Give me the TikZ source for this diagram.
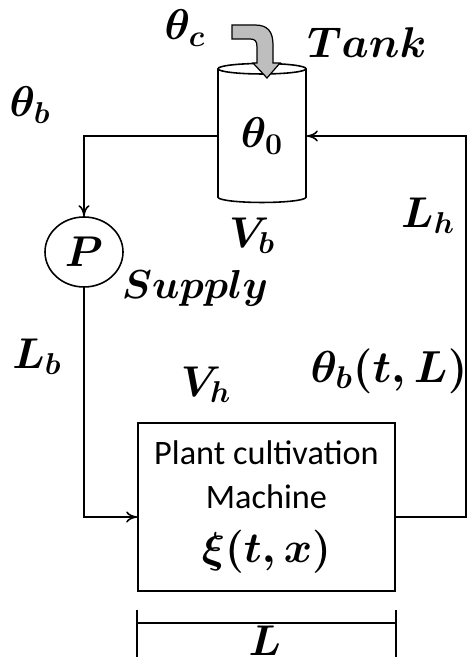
\RequirePackage{fix-cm}
\documentclass[tikz,border=0pt]{standalone}
\usepackage{fontspec}
\usepackage{amsmath}
\usetikzlibrary{arrows.meta, positioning, calc, shapes.geometric}
\newfontfamily\boxfont{Carlito}
\definecolor{arrowgray}{HTML}{BEBEBE}

\begin{document}
\begin{tikzpicture}[line width=0.9pt, >={To[length=2.2mm,width=2.2mm]},
  lbl/.style={font=\fontsize{24.5}{28}\selectfont\boldmath}]
  \useasboundingbox (0,0) rectangle (9.46,13.36);

  \node[draw, shape=cylinder, shape border rotate=90, aspect=0.25,
        minimum width=1.76cm, minimum height=2.78cm, inner sep=0pt, lbl]
        (tank) at (5.24,10.64) {$\theta_0$};
  \node[draw, ellipse, minimum width=1.56cm, minimum height=1.40cm, inner sep=0pt, lbl]
        (pump) at (1.68,8.32) {$P$};
  \node[draw, minimum width=5.14cm, minimum height=3.36cm, align=center,
        font=\boxfont\fontsize{19.5}{25}\selectfont]
        (box) at (5.33,3.22) {Plant cultivation\\Machine\\[6pt]
        {\fontsize{24.5}{28}\selectfont\boldmath$\xi(t,x)$}};

  \coordinate (ret) at (9.32,3.02);
  \draw[->] (tank.west) -| (pump.north);
  \draw[->] (pump.south) |- (box.west |- ret);
  \draw[->] (box.east |- ret) -- (ret) |- (tank.east);

  % feed into the tank
  \filldraw[fill=arrowgray, line width=0.7pt] (4.64,12.86) -- (5.10,12.86)
    .. controls (5.36,12.86) and (5.46,12.72) .. (5.46,12.46) -- (5.46,12.10)
    -- (5.60,12.10) -- (5.34,11.80) -- (5.06,12.10) -- (5.14,12.10) -- (5.14,12.42)
    .. controls (5.14,12.54) and (5.10,12.58) .. (5.00,12.58) -- (4.64,12.58) -- cycle;

  % length of the machine
  \coordinate (dl) at (box.south west |- 0,0.90);
  \coordinate (dr) at (box.south east |- 0,0.90);
  \draw (dl) -- (dr);
  \draw ([yshift=0.26cm]dl) -- ([yshift=-0.68cm]dl);
  \draw ([yshift=0.26cm]dr) -- ([yshift=-0.68cm]dr);

  \node[lbl] (thc) at (3.70,12.80) {$\theta_c$};
  \node[lbl] (tanklbl) at (7.34,12.50) {$Tank$};
  \node[lbl] (thb) at (0.60,11.26) {$\theta_b$};
  \node[lbl] (vb) at (5.04,8.64) {$V_b$};
  \node[lbl, font=\fontsize{23}{27}\selectfont\boldmath] (supply) at (3.90,7.60) {$Supply$};
  \node[lbl] (lh) at (8.56,9.04) {$L_h$};
  \node[lbl] (lb) at (0.74,6.22) {$L_b$};
  \node[lbl] (vh) at (4.12,5.66) {$V_h$};
  \node[lbl, font=\fontsize{25.5}{29}\selectfont\boldmath] (thbl) at (7.78,5.94) {$\theta_b(t,L)$};
  \node[lbl, inner sep=1pt] (len) at (5.30,0.54) {$L$};
\end{tikzpicture}
\end{document}
